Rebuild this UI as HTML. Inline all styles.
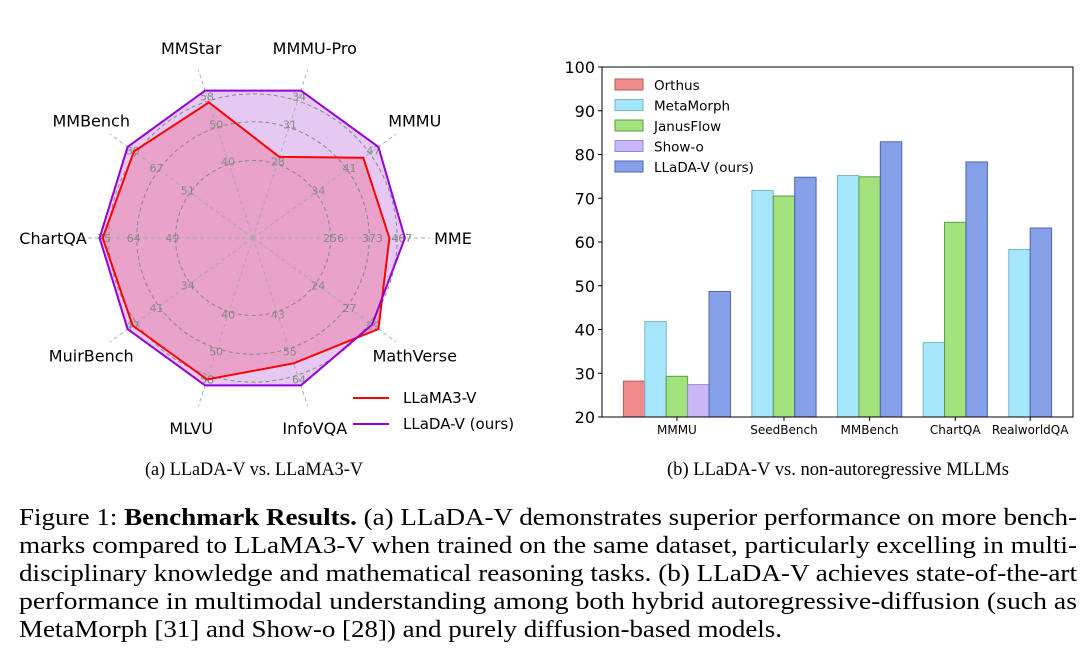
<!DOCTYPE html>
<html><head><meta charset="utf-8"><style>
html,body{margin:0;padding:0;background:#fff;}
svg{display:block;}
text{font-family:"DejaVu Sans","Liberation Sans",sans-serif;}
text.serif,.serif text{font-family:"Liberation Serif",serif;}
</style></head><body>
<svg id="fig" width="1092" height="658" viewBox="0 0 1092 658" xmlns="http://www.w3.org/2000/svg">
<g id="radar"></g>
<g id="bars"></g>
<g>
<text class="serif" x="254" y="475" text-anchor="middle" font-size="19" textLength="218" lengthAdjust="spacingAndGlyphs">(a) LLaDA-V vs. LLaMA3-V</text>
<text class="serif" x="838" y="475" text-anchor="middle" font-size="19" textLength="342" lengthAdjust="spacingAndGlyphs">(b) LLaDA-V vs. non-autoregressive MLLMs</text>
<g class="serif" font-size="24">
<text class="serif" x="19" y="525" textLength="1058" lengthAdjust="spacingAndGlyphs">Figure 1: <tspan font-weight="bold">Benchmark Results.</tspan> (a) LLaDA-V demonstrates superior performance on more bench-</text>
<text class="serif" x="19" y="553" textLength="1058" lengthAdjust="spacingAndGlyphs">marks compared to LLaMA3-V when trained on the same dataset, particularly excelling in multi-</text>
<text class="serif" x="19" y="581" textLength="1058" lengthAdjust="spacingAndGlyphs">disciplinary knowledge and mathematical reasoning tasks. (b) LLaDA-V achieves state-of-the-art</text>
<text class="serif" x="19" y="609" textLength="1058" lengthAdjust="spacingAndGlyphs">performance in multimodal understanding among both hybrid autoregressive-diffusion (such as</text>
<text class="serif" x="19" y="637" textLength="763" lengthAdjust="spacingAndGlyphs">MetaMorph [31] and Show-o [28]) and purely diffusion-based models.</text>
</g>
</g>
</svg>
<script>
// ---------- Radar data ----------
const radarAxes = ["MME","MMMU","MMMU-Pro","MMStar","MMBench","ChartQA","MuirBench","MLVU","InfoVQA","MathVerse"];
const radarTicks = [["256","373","467"],["34","41","47"],["28","31","34"],["40","50","58"],["51","67","80"],["49","64","75"],["34","41","47"],["40","50","58"],["43","55","64"],["24","27","29"]];
const llamaScores = [0.88,0.88,0.55,0.92,0.95,0.97,0.96,0.96,0.85,1.0];
const lladaScores = [0.98,1.0,1.0,1.0,1.0,0.99,1.0,1.0,1.0,0.95];
// ---------- Bar data ----------
const barCategories = ["MMMU","SeedBench","MMBench","ChartQA","RealworldQA"];
const barSeries = ["Orthus","MetaMorph","JanusFlow","Show-o","LLaDA-V (ours)"];
const orthusVals = [28.2,null,null,null,null];
const metaMorphVals = [41.8,71.8,75.2,37.0,58.3];
const janusFlowVals = [29.3,70.5,74.9,64.5,null];
const showoVals = [27.4,null,null,null,null];
const lladaVals = [48.7,74.8,82.9,78.3,63.2];
const yTicks = [20,30,40,50,60,70,80,90,100];

const NS="http://www.w3.org/2000/svg";
function mk(parent,tag,attrs){const e=document.createElementNS(NS,tag);for(const k in attrs)e.setAttribute(k,attrs[k]);parent.appendChild(e);return e;}

// ---------- Radar ----------
(function(){
const g=document.getElementById('radar');
const cx=253,cy=238,R=155;
const ang=i=>i*2*Math.PI/radarAxes.length;
const px=(i,f)=>cx+Math.cos(ang(i))*R*f;
const py=(i,f)=>cy-Math.sin(ang(i))*R*f;
const poly=arr=>arr.map((v,i)=>px(i,v).toFixed(1)+","+py(i,v).toFixed(1)).join(" ");
let p=mk(g,'polygon',{points:poly(lladaScores),fill:'#e6c9f3',stroke:'none'});


p=mk(g,'polygon',{points:poly(llamaScores),fill:'#e9a2c9',stroke:'none'});


[0.5,0.75,0.93].forEach(f=>{const c=mk(g,'circle',{cx:cx,cy:cy,r:R*f,fill:'none',stroke:'#888','stroke-dasharray':'4,3','stroke-width':1});

});
radarAxes.forEach((a,i)=>{
  const l=mk(g,'line',{x1:cx,y1:cy,x2:px(i,1.14),y2:py(i,1.14),stroke:'#aaa','stroke-dasharray':'4,3','stroke-width':0.9});
  
  
  radarTicks[i].forEach((t,k)=>{const f=[0.52,0.77,0.96][k];
    const tx=mk(g,'text',{x:px(i,f),y:py(i,f)+4,'text-anchor':'middle','font-size':11,fill:'#888'});tx.textContent=t;
    
    });
  const lb=mk(g,'text',{x:px(i,1.29),y:py(i,1.29)+6,'text-anchor':'middle','font-size':16,fill:'#000'});lb.textContent=a;
  
  
});
p=mk(g,'polygon',{points:poly(llamaScores),fill:'none',stroke:'#ff0000','stroke-width':2});


p=mk(g,'polygon',{points:poly(lladaScores),fill:'none',stroke:'#9400d3','stroke-width':2});


const leg=[["LLaMA3-V","#ff0000",398],["LLaDA-V (ours)","#9400d3",424]];
leg.forEach(([t,c,y])=>{
  const l=mk(g,'line',{x1:353,y1:y,x2:389,y2:y,stroke:c,'stroke-width':2});
  
  
  const tx=mk(g,'text',{x:403,y:y+5,'font-size':15,fill:'#000'});tx.textContent=t;
  
  
});
})();

// ---------- Bars ----------
(function(){
const g=document.getElementById('bars');
const L=602,Rr=1073,T=67,B=417,ymin=20,ymax=100;
const y=v=>B-(v-ymin)/(ymax-ymin)*(B-T);
const series=[orthusVals,metaMorphVals,janusFlowVals,showoVals,lladaVals];
const fills=['#f08c8c','#a5e6fb','#a2e37e','#c8b8f8','#86a0ea'];
const strokes=['#b55a5a','#7ab4c8','#5e9a48','#9a8ad0','#4e62b0'];
const counts=barCategories.map((c,ci)=>series.filter(s=>s[ci]!=null).length);
const totalSlots=counts.reduce((a,b)=>a+b,0)+(barCategories.length-1)+2;
const w=(Rr-L)/totalSlots;
let slot=1;
barCategories.forEach((cat,ci)=>{
  const start=slot;
  series.forEach((s,si)=>{
    if(s[ci]==null)return;
    const x=L+slot*w;
    const r=mk(g,'rect',{x:x,y:y(s[ci]),width:w,height:B-y(s[ci]),fill:fills[si],stroke:strokes[si],'stroke-width':1});
    
    
    slot++;
  });
  const cxm=L+(start+(slot-start)/2)*w;
  mk(g,'line',{x1:cxm,y1:B,x2:cxm,y2:B+4,stroke:'#000'});
  const t=mk(g,'text',{x:cxm,y:B+17,'text-anchor':'middle','font-size':12,fill:'#000'});t.textContent=cat;
  
  
  slot++;
});
const fr=mk(g,'rect',{x:L,y:T,width:Rr-L,height:B-T,fill:'none',stroke:'#000','stroke-width':1});


yTicks.forEach(v=>{
  mk(g,'line',{x1:L-4,y1:y(v),x2:L,y2:y(v),stroke:'#000'});
  const t=mk(g,'text',{x:L-7,y:y(v)+6,'text-anchor':'end','font-size':16,fill:'#000'});t.textContent=v;
  
  
});
barSeries.forEach((s,si)=>{
  const yy=85+si*20.5;
  const r=mk(g,'rect',{x:615,y:yy-6,width:28,height:11,fill:fills[si],stroke:strokes[si]});
  
  
  const t=mk(g,'text',{x:654,y:yy+5,'font-size':13.5,fill:'#000'});t.textContent=s;
  
  
});
})();
</script>
</body></html>
